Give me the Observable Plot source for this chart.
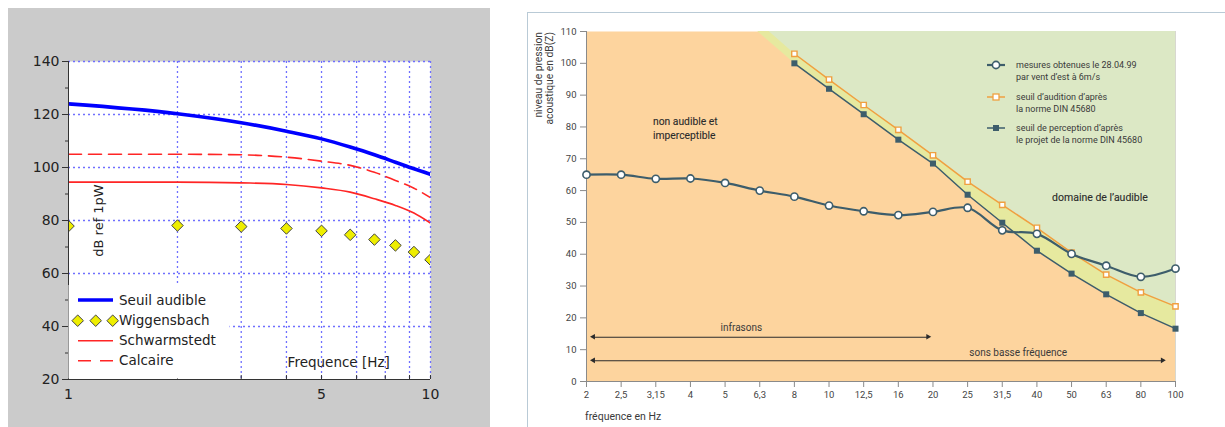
<!DOCTYPE html>
<html><head><meta charset="utf-8">
<script src="https://cdn.jsdelivr.net/npm/d3@7"></script>
<script src="https://cdn.jsdelivr.net/npm/@observablehq/plot@0.6"></script>
<style>
html,body{margin:0;padding:0;background:#fff;width:1225px;height:427px;overflow:hidden;}
#left{position:absolute;left:8px;top:8px;width:482px;height:419px;background:#cbcbcb;}
#right{position:absolute;left:527px;top:12px;width:698px;height:415px;border-left:1px solid #b9cad6;border-top:1px solid #b9cad6;background:#fff;}
svg{display:block}
</style></head><body>
<div id="left"></div><div id="right"></div>
<script>
// ---------- LEFT CHART DATA ----------
const leftFreq = [1, 2, 3, 4, 5, 6, 7, 8, 9, 10];
const seuilAudible = [124, 120.3, 116.9, 113.7, 110.8, 107.7, 104.8, 102, 99.5, 97.4];
const calcaire = [105, 105, 104.8, 103.9, 102.4, 100.8, 98.2, 95.1, 92.2, 88.6];
const schwarmstedt = [94.5, 94.5, 94.2, 93.6, 92.3, 90.7, 88.2, 85.7, 82.8, 79];
const wiggensbach = [77.9, 78.1, 77.7, 77, 76.1, 74.6, 72.8, 70.6, 68.1, 65.2];
const leftGridX = [2, 3, 4, 5, 6.25, 7.5, 8.75, 10];
const leftGridY = [40, 60, 80, 100, 120, 140];
const leftTicksY = [20, 40, 60, 80, 100, 120, 140];
const leftMinorY = [30, 50, 70, 90, 110, 130];
const leftTicksX = [1, 5, 10];
const leftLegend = ["Seuil audible", "Wiggensbach", "Schwarmstedt", "Calcaire"];

// ---------- RIGHT CHART DATA ----------
const freqLabels = ["2","2,5","3,15","4","5","6,3","8","10","12,5","16","20","25","31,5","40","50","63","80","100"];
const mesures = [65.0, 65.0, 63.7, 63.8, 62.4, 60.0, 58.1, 55.3, 53.5, 52.3, 53.3, 54.6, 47.5, 46.4, 40.1, 36.4, 32.9, 35.5];
const thresholdFreq = ["8","10","12,5","16","20","25","31,5","40","50","63","80","100"];
const audition = [103, 94.9, 86.9, 79.1, 71.1, 62.8, 55.5, 48.3, 40.5, 33.6, 28.0, 23.6];
const perception = [100, 92, 84, 76, 68.5, 58.7, 49.9, 41.1, 33.9, 27.4, 21.5, 16.6];
const perceptionTopIndex = 4.94;   // where the perception zone reaches 110 dB
const auditionTopIndex = 5.27;     // where the audition zone reaches 110 dB
const rightTicksY = [0,10,20,30,40,50,60,70,80,90,100,110];
const rangeArrows = [
  {label: "infrasons", x1: 0.21, x2: 9.87, y: 13.9, tx: 4.47, ty: 17.0},
  {label: "sons basse fréquence", x1: 0.21, x2: 16.64, y: 6.5, tx: 12.46, ty: 9.1}
];
const zoneLeft = [{label: "non audible et\nimperceptible", x: 1.92, y: 79.8}];
const zoneRight = [{label: "domaine de l\u2019audible", x: 14.82, y: 57.7}];
const rightLegend = [
  ["mesures obtenues le 28.04.99", "par vent d\u2019est à 6m/s"],
  ["seuil d\u2019audition d\u2019après", "la norme DIN 45680"],
  ["seuil de perception d\u2019après", "le projet de la norme DIN 45680"]
];

// ---------- LEFT CHART ----------
const toRows = (ys) => leftFreq.map((f, i) => ({f, v: ys[i]}));
const gridStyle = {stroke: "#6f6fff", strokeDasharray: "2,3", strokeWidth: 1.3};
const leftPlot = Plot.plot({
  width: 482, height: 419,
  marginLeft: 60, marginRight: 60, marginTop: 53, marginBottom: 48,
  style: {background: "transparent", fontFamily: "DejaVu Sans", fontSize: "14px", color: "#222", overflow: "visible"},
  x: {type: "log", domain: [1, 10]},
  y: {domain: [20, 140]},
  marks: [
    Plot.frame({fill: "white", stroke: null}),
    Plot.ruleX(leftGridX, gridStyle),
    Plot.ruleY(leftGridY, gridStyle),
    Plot.ruleX(leftGridX, {y1: 20, y2: 21.5, stroke: "#333"}),
    Plot.line(toRows(seuilAudible), {x: "f", y: "v", stroke: "#0000ff", strokeWidth: 3.6, curve: "monotone-x", clip: true}),
    Plot.line(toRows(calcaire), {x: "f", y: "v", stroke: "#ff2525", strokeWidth: 1.6, strokeDasharray: "13,7", curve: "monotone-x", clip: true}),
    Plot.line(toRows(schwarmstedt), {x: "f", y: "v", stroke: "#ff2525", strokeWidth: 1.6, curve: "monotone-x", clip: true}),
    Plot.dot(toRows(wiggensbach), {x: "f", y: "v", symbol: "diamond2", r: 5.2, fill: "#eeee00", stroke: "#444", strokeWidth: 1, clip: true}),
    Plot.text(["dB ref 1pW"], {x: 1.21, y: 80, rotate: -90, fontSize: 13, fill: "#222"}),
    Plot.text(["Frequence [Hz]"], {x: 4.03, y: 26.4, textAnchor: "start", fontSize: 13.5, fill: "#222"}),
    Plot.ruleX([1], {stroke: "#333"}),
    Plot.ruleY([20], {stroke: "#333"}),
    Plot.axisY({ticks: leftTicksY, tickSize: 6, tickPadding: 3, label: null, fontSize: 14, stroke: "#333"}),
    Plot.axisY({ticks: leftMinorY, tickSize: 3, tickFormat: () => "", label: null, stroke: "#333"}),
    Plot.axisX({ticks: leftTicksX, tickSize: 0, tickPadding: 10, tickFormat: d => String(d), label: null, fontSize: 14})
  ]
});
document.getElementById("left").appendChild(leftPlot);
{
  const svg = d3.select(leftPlot);
  const g = svg.append("g").attr("font-family", "DejaVu Sans").attr("font-size", 13.5).attr("fill", "#222").attr("text-anchor", "start");
  g.append("rect").attr("x", 60.5).attr("y", 277).attr("width", 161).attr("height", 93.5).attr("fill", "white");
  const ys = [292, 312.7, 332.7, 352.7];
  g.append("line").attr("x1", 70).attr("x2", 105).attr("y1", ys[0]).attr("y2", ys[0]).attr("stroke", "#0000ff").attr("stroke-width", 3.6);
  [69.7, 87.7, 104.7].forEach(x => g.append("path").attr("d", d3.symbol(d3.symbolDiamond2, Math.PI * 5.2 * 5.2)()).attr("transform", `translate(${x},${ys[1]})`).attr("fill", "#eeee00").attr("stroke", "#444"));
  g.append("line").attr("x1", 70).attr("x2", 105).attr("y1", ys[2]).attr("y2", ys[2]).attr("stroke", "#ff2525").attr("stroke-width", 1.6);
  g.append("line").attr("x1", 70).attr("x2", 105).attr("y1", ys[3]).attr("y2", ys[3]).attr("stroke", "#ff2525").attr("stroke-width", 1.6).attr("stroke-dasharray", "13,9");
  leftLegend.forEach((t, i) => g.append("text").attr("x", 111).attr("y", ys[i]).attr("dy", "0.35em").attr("text-anchor", "start").text(t));
}

// ---------- RIGHT CHART ----------
const mes = mesures.map((v, i) => ({i, v}));
const aud = thresholdFreq.map((f, k) => ({i: freqLabels.indexOf(f), v: audition[k]}));
const perc = thresholdFreq.map((f, k) => ({i: freqLabels.indexOf(f), v: perception[k]}));
const percFill = [{i: perceptionTopIndex, v: 110}, ...perc];
const audFill = [{i: auditionTopIndex, v: 110}, ...aud];
const dark = "#3d5d6b", orange = "#f0a040", txt = "#3a3a3a";
const heads = rangeArrows.flatMap(a => [{x: a.x1, y: a.y, rot: -90, dx: 3.5}, {x: a.x2, y: a.y, rot: 90, dx: -3.5}]);

const rightPlot = Plot.plot({
  width: 697, height: 414,
  marginLeft: 58, marginRight: 50, marginTop: 18, marginBottom: 46,
  style: {background: "transparent", fontFamily: "Roboto", fontSize: "9.5px", color: "#444", overflow: "visible"},
  x: {domain: [0, 17]},
  y: {domain: [0, 110]},
  marks: [
    Plot.frame({fill: "#fdd49e", stroke: null}),
    Plot.areaY(percFill, {x: "i", y1: "v", y2: 110, fill: "#e6e99f"}),
    Plot.areaY(audFill, {x: "i", y1: "v", y2: 110, fill: "#dce8c5"}),
    Plot.ruleX([17], {stroke: "#d8d8d0", strokeWidth: 1}),
    Plot.ruleX([0], {stroke: "#8a8a8a"}),
    Plot.ruleY([0], {stroke: "#8a8a8a"}),
    Plot.ruleY(rangeArrows, {x1: "x1", x2: "x2", y: "y", stroke: "#2b2b2b", strokeWidth: 1.1}),
    Plot.dot(heads, {x: "x", y: "y", rotate: "rot", dx: "dx", symbol: "triangle", r: 2.1, fill: "#2b2b2b", stroke: null}),
    Plot.text(rangeArrows, {x: "tx", y: "ty", text: "label", fontSize: 10, fill: txt}),
    Plot.text(zoneLeft, {x: "x", y: "y", text: "label", textAnchor: "start", fontSize: 10.3, fill: "#2a2a2a", lineHeight: 1.35, stroke: "#2a2a2a", strokeWidth: 0.1}),
    Plot.text(zoneRight, {x: "x", y: "y", text: "label", textAnchor: "middle", fontSize: 10.5, fill: "#2a2a2a", stroke: "#2a2a2a", strokeWidth: 0.1}),
    Plot.line(perc, {x: "i", y: "v", stroke: dark, strokeWidth: 1.5}),
    Plot.line(aud, {x: "i", y: "v", stroke: orange, strokeWidth: 1.5}),
    Plot.dot(perc, {x: "i", y: "v", symbol: "square", r: 3.4, fill: dark, stroke: null}),
    Plot.dot(aud, {x: "i", y: "v", symbol: "square", r: 3.0, fill: "white", stroke: orange, strokeWidth: 1.4}),
    Plot.line(mes, {x: "i", y: "v", stroke: dark, strokeWidth: 2.2, curve: "catmull-rom"}),
    Plot.dot(mes, {x: "i", y: "v", r: 3.6, fill: "white", stroke: dark, strokeWidth: 1.6}),
    Plot.axisY({ticks: rightTicksY, tickSize: 6, tickPadding: 4, label: null, stroke: "#8a8a8a", fill: "#444"}),
    Plot.axisX({ticks: d3.range(freqLabels.length), tickSize: 6, tickPadding: 4, tickFormat: i => freqLabels[i], label: null, stroke: "#8a8a8a", fill: "#444"})
  ]
});
document.getElementById("right").appendChild(rightPlot);
{
  const svg = d3.select(rightPlot);
  const g = svg.append("g").attr("font-family", "Roboto").attr("fill", txt).attr("text-anchor", "start");
  // axis titles
  g.append("text").attr("transform", "translate(10,19) rotate(-90)").attr("text-anchor", "end").attr("dy", "0.35em").attr("font-size", 10.3).text("niveau de pression");
  g.append("text").attr("transform", "translate(21,19) rotate(-90)").attr("text-anchor", "end").attr("dy", "0.35em").attr("font-size", 10.3).text("acoustique en dB(Z)");
  g.append("text").attr("x", 57).attr("y", 403).attr("dy", "0.35em").attr("font-size", 10.5).text("fréquence en Hz");
  // legend
  const ly = [52, 84, 115];
  const lg = g.append("g").attr("font-size", 9);
  ly.forEach((y, k) => {
    const col = k === 1 ? orange : dark;
    lg.append("line").attr("x1", 459).attr("x2", 477).attr("y1", y).attr("y2", y).attr("stroke", col).attr("stroke-width", k === 0 ? 2.2 : 1.5);
    if (k === 0) lg.append("circle").attr("cx", 468).attr("cy", y).attr("r", 3.6).attr("fill", "white").attr("stroke", dark).attr("stroke-width", 1.6);
    if (k === 1) lg.append("rect").attr("x", 465).attr("y", y - 3).attr("width", 6).attr("height", 6).attr("fill", "white").attr("stroke", orange).attr("stroke-width", 1.3);
    if (k === 2) lg.append("rect").attr("x", 465).attr("y", y - 3).attr("width", 6).attr("height", 6).attr("fill", dark);
    rightLegend[k].forEach((t, j) => lg.append("text").attr("x", 488).attr("y", y + j * 11.5).attr("dy", "0.35em").attr("text-anchor", "start").text(t));
  });
}
</script>
</body></html>
